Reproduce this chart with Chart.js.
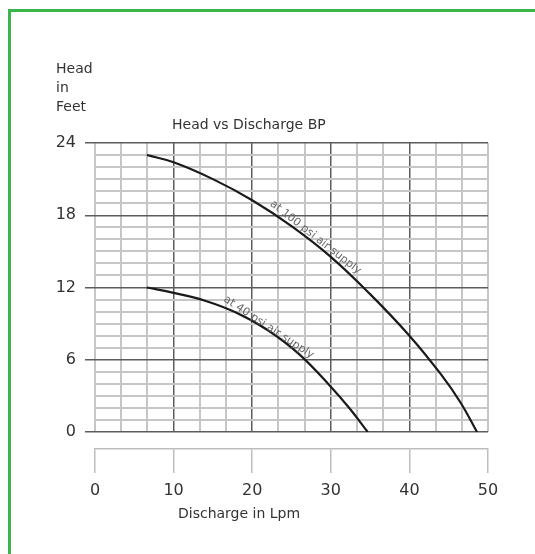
<!DOCTYPE html>
<html><head><meta charset="utf-8">
<script src="https://cdn.jsdelivr.net/npm/chart.js@4/dist/chart.umd.min.js"></script>
<style>
html,body{margin:0;padding:0;background:#fff;width:535px;height:554px;overflow:hidden}
#frame{position:absolute;left:8px;top:9px;width:600px;height:600px;border-top:3px solid #3cb54a;border-left:3px solid #3cb54a;box-sizing:border-box}
#wrap{position:absolute;left:0;top:0;width:535px;height:554px}
.t{position:absolute;font-family:"DejaVu Sans",sans-serif;color:#333;white-space:nowrap;font-size:14px;line-height:19px}
</style></head><body>
<div id="frame"></div>
<div id="wrap"><canvas id="c" width="535" height="554"></canvas></div>
<div class="t" style="left:56px;top:59px">Head<br>in<br>Feet</div>
<div class="t" style="left:172px;top:115px">Head vs Discharge BP</div>
<div class="t" style="left:178px;top:504px">Discharge in Lpm</div>
<script>
// ---- data ----
const seriesNames = ['at 100 psi air supply', 'at 40 psi air supply'];
const flow100 = [6.6, 10, 15, 20, 25, 30, 35, 40, 44, 46.5, 48.6];
const head100 = [23.0, 22.4, 21.0, 19.25, 17.1, 14.55, 11.45, 8.0, 4.8, 2.45, 0];
const flow40 = [6.6, 10, 14, 18, 22, 26, 30, 32.4, 34.7];
const head40 = [12.0, 11.55, 10.9, 9.9, 8.45, 6.45, 3.76, 1.95, 0];
const xTickLabels = [0, 10, 20, 30, 40, 50];
const yTickLabels = [0, 6, 12, 18, 24];
const labelFlowAt = [27.6, 21.9];   // where each curve caption sits (x value)
const labelShift = [-6, -3];

const MAJOR = '#5c5c5c', MINOR = '#c6c6c6';
const xMax = 50, yMax = 24;
const xGrid = []; for (let i = 0; i <= 15; i++) xGrid.push(i * 10 / 3);
const yGrid = []; for (let i = 0; i <= yMax; i++) yGrid.push(i);
const isXMajor = v => { const r = Math.round(v); return Math.abs(v - r) < 1e-6 && r % 10 === 0 && r !== 0 && r !== xMax; };
const isYMajor = v => yTickLabels.includes(Math.round(v)) && Math.abs(v - Math.round(v)) < 1e-6;

function pts(xs, ys) { return xs.map((x, i) => ({x, y: ys[i]})); }
function interp(xs, ys, x) {
  for (let i = 0; i < xs.length - 1; i++) {
    if (x >= xs[i] && x <= xs[i + 1]) return ys[i] + (ys[i + 1] - ys[i]) * (x - xs[i]) / (xs[i + 1] - xs[i]);
  }
  return ys[ys.length - 1];
}
const seriesX = [flow100, flow40], seriesY = [head100, head40];

const captionPlugin = {
  id: 'captions',
  afterDatasetsDraw(chart) {
    const {ctx, scales} = chart; const sx = scales.x, sy = scales.y;
    seriesNames.forEach((name, i) => {
      const fx = labelFlowAt[i];
      const px = sx.getPixelForValue(fx), py = sy.getPixelForValue(interp(seriesX[i], seriesY[i], fx));
      const ax = sx.getPixelForValue(fx - 1.5), ay = sy.getPixelForValue(interp(seriesX[i], seriesY[i], fx - 1.5));
      const bx = sx.getPixelForValue(fx + 1.5), by = sy.getPixelForValue(interp(seriesX[i], seriesY[i], fx + 1.5));
      const ang = Math.atan2(by - ay, bx - ax);
      ctx.save();
      ctx.translate(px, py); ctx.rotate(ang);
      ctx.font = '11px "DejaVu Sans"'; ctx.fillStyle = '#666';
      ctx.textAlign = 'center'; ctx.textBaseline = 'middle';
      ctx.fillText(name, 0, labelShift[i]);
      ctx.restore();
    });
  }
};

const lineStyle = {showLine: true, borderColor: '#1a1a1a', borderWidth: 2.2, pointRadius: 0, tension: 0.4, xAxisID: 'x', yAxisID: 'y'};

new Chart(document.getElementById('c'), {
  type: 'scatter',
  data: {
    datasets: [
      Object.assign({label: seriesNames[0], data: pts(flow100, head100)}, lineStyle),
      Object.assign({label: seriesNames[1], data: pts(flow40, head40)}, lineStyle)
    ]
  },
  options: {
    responsive: false, animation: false, devicePixelRatio: 1,
    layout: {padding: {left: 55, top: 143, right: 47, bottom: 43}},
    plugins: {legend: {display: false}, tooltip: {enabled: false}, title: {display: false}},
    scales: {
      x: {
        type: 'linear', min: 0, max: xMax, position: 'bottom',
        afterBuildTicks(s) { s.ticks = xGrid.map(v => ({value: v})); },
        ticks: {display: false, autoSkip: false},
        grid: {drawTicks: false, color: c => isXMajor(c.tick.value) ? MAJOR : MINOR, lineWidth: c => isXMajor(c.tick.value) ? 1.5 : 2},
        border: {display: false},
        afterFit(s) { s.height = 17; }
      },
      xb: {
        type: 'linear', min: 0, max: xMax, position: 'bottom',
        afterBuildTicks(s) { s.ticks = xTickLabels.map(v => ({value: v})); },
        ticks: {autoSkip: false, maxRotation: 0, font: {family: 'DejaVu Sans', size: 16}, color: '#333', padding: 8},
        grid: {drawOnChartArea: false, tickLength: 24, tickColor: '#bdbdbd', lineWidth: 1.5},
        border: {display: true, color: '#bdbdbd', width: 1.5},
        afterFit(s) { s.height = 62; }
      },
      y: {
        type: 'linear', min: 0, max: yMax, position: 'left',
        afterBuildTicks(s) { s.ticks = yGrid.map(v => ({value: v})); },
        ticks: {autoSkip: false, font: {family: 'DejaVu Sans', size: 16}, color: '#333', padding: 9,
          callback: v => yTickLabels.includes(v) ? String(v) : ''},
        grid: {tickLength: 10, color: c => isYMajor(c.tick.value) ? MAJOR : MINOR,
          tickColor: c => isYMajor(c.tick.value) ? MAJOR : 'rgba(0,0,0,0)',
          lineWidth: c => isYMajor(c.tick.value) ? 1.5 : 2},
        border: {display: false},
        afterFit(s) { s.width = 40; }
      }
    }
  },
  plugins: [captionPlugin]
});
</script>
</body></html>
